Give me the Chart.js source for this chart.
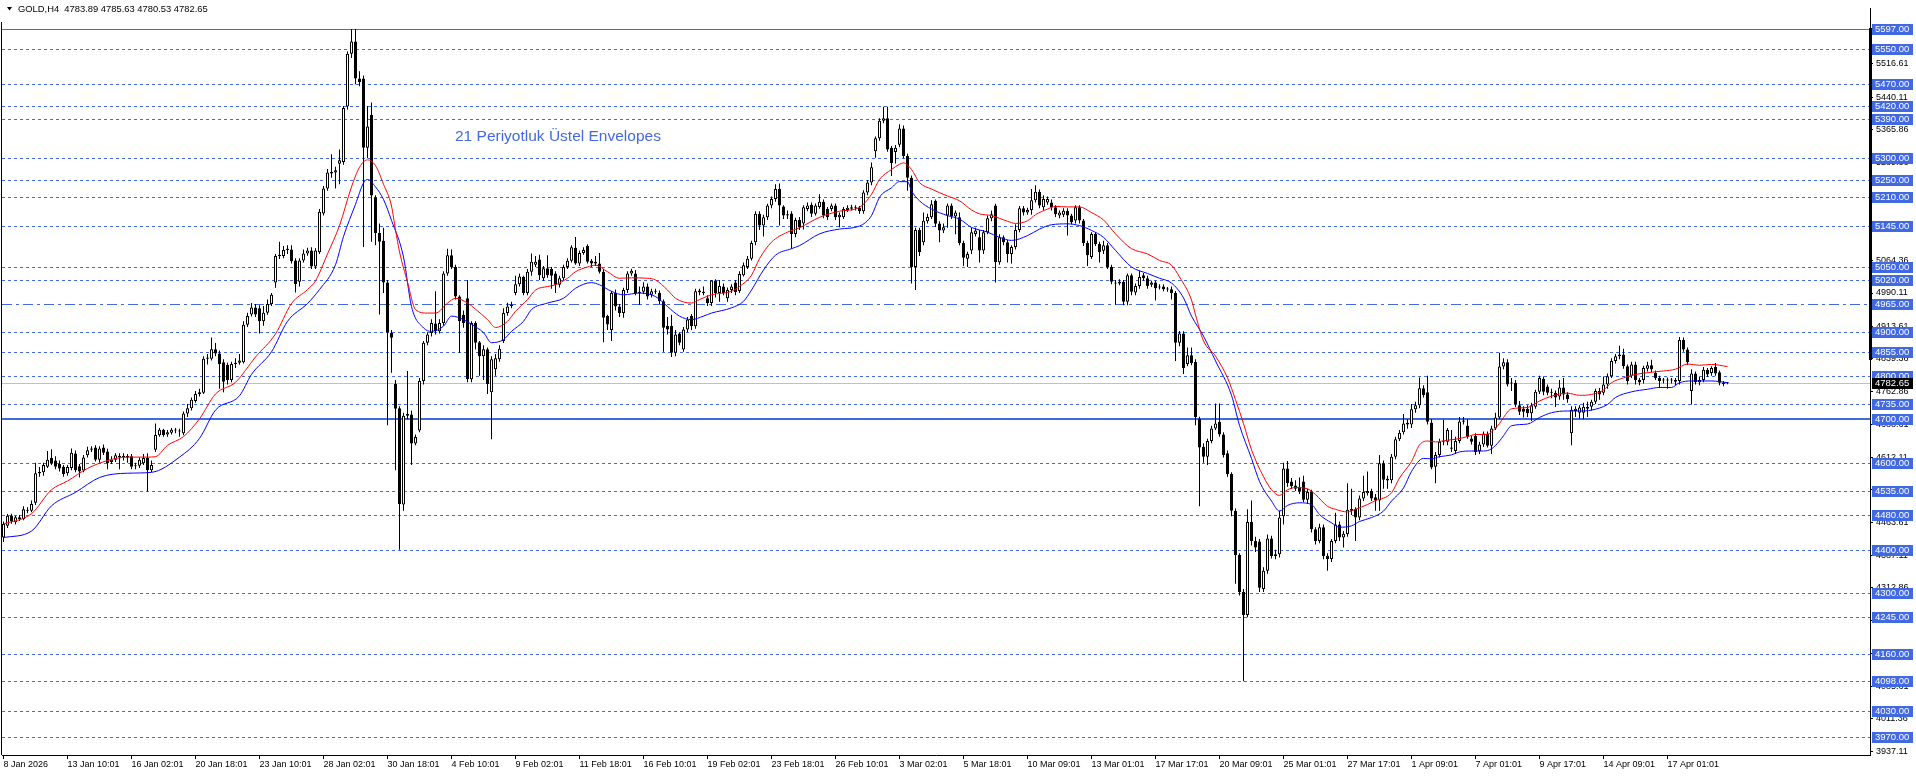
<!DOCTYPE html>
<html>
<head>
<meta charset="utf-8">
<script src="https://cdn.jsdelivr.net/npm/chart.js"></script>
<style>
  html, body { margin: 0; padding: 0; background: #fff; }
  #wrap { width: 1916px; height: 776px; }
</style>
</head>
<body>
<div id="wrap"><canvas id="goldChart" width="1916" height="776"></canvas></div>
<script>
// GOLD, H4 candles (one value per bar, bar 0 = 8 Jan 2026)
const open = [
  4428,4455,4479,4463,4475,4471,4492,4490,4508,4576,4578,4591,4611,4605,4598,4591,
  4576,4588,4621,4592,4582,4617,4630,4635,4607,4635,4626,4602,4607,4616,4613,4616,
  4615,4592,4593,4599,4611,4583,4630,4663,4675,4665,4669,4676,4674,4668,4713,4725,
  4742,4758,4761,4839,4839,4861,4851,4831,4825,4790,4827,4830,4831,4917,4941,4957,
  4955,4925,4945,4965,5014,5075,5075,5089,5090,5065,5016,5065,5081,5088,5051,5084,
  5173,5230,5265,5267,5287,5291,5419,5540,5568,5483,5483,5324,5399,5210,5128,5110,
  5014,4899,4781,4725,4504,4708,4711,4644,4674,4788,4876,4898,4920,4902,4921,5035,
  5077,5050,4982,4940,4978,4792,4921,4877,4845,4861,4762,4815,4838,4880,4944,4960,
  4990,5010,5027,4990,5039,5055,5067,5024,5047,5045,5035,5009,5024,5050,5064,5094,
  5058,5082,5098,5064,5058,5058,5039,4937,4905,4990,4959,4944,4997,5035,5035,4990,
  4993,5005,4986,4993,4990,4971,4915,4915,4853,4897,4860,4906,4937,4914,4992,4993,
  4978,4967,5019,4990,5005,4978,4997,5014,4995,5031,5050,5069,5107,5172,5145,5164,
  5191,5206,5229,5189,5168,5173,5126,5158,5150,5183,5193,5172,5188,5200,5183,5183,
  5191,5164,5164,5181,5184,5186,5186,5178,5221,5244,5316,5346,5386,5392,5324,5314,
  5331,5368,5305,5255,5050,5135,5107,5155,5164,5202,5150,5134,5168,5191,5166,5164,
  5105,5069,5088,5126,5118,5088,5130,5162,5191,5061,5118,5107,5080,5096,5135,5185,
  5175,5181,5203,5223,5187,5198,5198,5187,5168,5170,5179,5168,5157,5187,5157,5105,
  5073,5126,5103,5087,5100,5050,5014,5012,5016,4970,5031,4991,5006,5031,5024,5009,
  5014,5003,5005,4999,4999,4990,4876,4897,4827,4847,4832,4701,4637,4614,4650,4679,
  4694,4665,4622,4574,4489,4388,4303,4250,4464,4420,4419,4310,4352,4426,4386,4390,
  4477,4587,4557,4548,4545,4557,4515,4533,4447,4420,4452,4386,4379,4420,4458,4428,
  4436,4490,4494,4474,4518,4530,4535,4521,4513,4599,4563,4560,4614,4654,4670,4688,
  4688,4723,4732,4771,4762,4692,4591,4618,4648,4648,4635,4627,4650,4694,4685,4656,
  4662,4627,4642,4667,4639,4679,4704,4821,4831,4782,4784,4732,4724,4724,4714,4729,
  4763,4793,4775,4761,4761,4752,4773,4757,4668,4719,4715,4715,4724,4729,4740,4765,
  4761,4780,4799,4834,4845,4849,4822,4800,4826,4790,4790,4816,4824,4807,4795,4790,
  4789,4790,4790,4788,4882,4860,4765,4805,4785,4790,4814,4806,4820,4808,4784,4783.89
];
const high = [
  4465,4482,4483,4478,4480,4500,4498,4513,4600,4590,4600,4627,4631,4615,4605,4595,
  4595,4633,4628,4597,4618,4637,4638,4640,4638,4642,4632,4615,4622,4622,4622,4620,
  4620,4600,4612,4620,4622,4605,4690,4680,4678,4675,4680,4680,4678,4718,4735,4750,
  4765,4770,4845,4850,4888,4875,4858,4838,4830,4832,4840,4850,4925,4945,4967,4965,
  4962,4960,4975,4990,5080,5108,5098,5100,5100,5070,5070,5090,5094,5095,5093,5183,
  5236,5275,5309,5280,5320,5420,5545,5597,5597,5500,5490,5420,5428,5215,5150,5140,
  5020,4905,4790,4730,4715,4811,4720,4665,4795,4880,4900,4930,4994,4930,5040,5092,
  5090,5055,4985,4950,5020,4925,4925,4880,4870,4865,4845,4850,4870,4955,4968,4970,
  5030,5035,5030,5045,5081,5075,5078,5052,5077,5050,5040,5030,5055,5070,5100,5119,
  5088,5095,5102,5068,5075,5082,5045,4940,4995,4998,4965,5002,5040,5046,5043,5005,
  5015,5012,5000,5000,4996,4975,4935,4940,4905,4900,4912,4935,4942,5000,5000,5005,
  4985,5020,5022,5020,5012,5003,5010,5020,5040,5060,5075,5110,5178,5178,5170,5195,
  5212,5240,5242,5192,5180,5178,5163,5165,5192,5198,5198,5196,5217,5205,5188,5196,
  5196,5175,5188,5192,5193,5192,5190,5226,5250,5290,5350,5392,5418,5418,5328,5330,
  5378,5375,5310,5260,5140,5140,5175,5172,5203,5205,5155,5150,5196,5196,5180,5175,
  5110,5085,5140,5140,5135,5135,5168,5180,5195,5125,5122,5112,5100,5148,5190,5190,
  5186,5229,5238,5228,5215,5212,5205,5192,5180,5185,5185,5172,5192,5192,5160,5110,
  5130,5130,5108,5110,5105,5055,5020,5022,5020,5035,5035,5012,5042,5036,5030,5018,
  5018,5010,5010,5004,5005,4995,4903,4902,4865,4865,4838,4706,4645,4655,4685,4736,
  4736,4670,4628,4578,4495,4392,4310,4493,4513,4430,4425,4360,4435,4432,4400,4490,
  4600,4604,4565,4560,4566,4570,4540,4538,4452,4460,4458,4392,4425,4485,4465,4443,
  4553,4540,4498,4525,4570,4580,4540,4528,4618,4605,4570,4620,4660,4675,4712,4700,
  4735,4740,4796,4778,4800,4700,4625,4655,4699,4680,4675,4660,4705,4705,4700,4662,
  4668,4648,4672,4672,4685,4715,4853,4840,4838,4795,4790,4742,4730,4732,4738,4768,
  4800,4798,4780,4770,4766,4790,4795,4762,4730,4730,4732,4738,4740,4745,4770,4772,
  4798,4805,4840,4850,4869,4862,4826,4832,4832,4795,4823,4832,4837,4812,4800,4795,
  4796,4795,4795,4889,4888,4865,4815,4810,4798,4820,4818,4822,4829,4812,4788,4785.63
];
const low = [
  4418,4450,4460,4458,4466,4468,4484,4486,4503,4568,4570,4588,4595,4585,4580,4568,
  4570,4583,4578,4566,4578,4612,4625,4603,4600,4618,4585,4597,4602,4585,4605,4600,
  4585,4585,4588,4595,4534,4578,4625,4660,4660,4660,4665,4668,4660,4663,4705,4720,
  4738,4752,4758,4826,4835,4845,4770,4762,4780,4785,4818,4825,4828,4912,4936,4935,
  4897,4915,4940,4960,5002,5068,5070,5080,5058,4991,5005,5060,5076,5045,5045,5080,
  5168,5225,5255,5230,5240,5285,5412,5530,5470,5465,5096,5300,5108,5100,4941,4990,
  4686,4807,4583,4400,4490,4700,4595,4640,4670,4780,4870,4890,4895,4897,4915,5030,
  5045,4975,4853,4910,4785,4785,4860,4800,4790,4758,4654,4800,4832,4875,4938,4955,
  4985,5005,4985,4985,5030,5050,5020,5018,5025,5000,4990,5003,5018,5045,5060,5055,
  5052,5078,5058,5050,5052,5035,4877,4905,4880,4950,4935,4933,4990,5030,4985,4963,
  4988,4975,4980,4988,4965,4855,4895,4843,4845,4870,4855,4900,4905,4908,4985,4985,
  4960,4960,4980,4970,4985,4970,4990,4985,4990,5028,5045,5065,5100,5135,5120,5158,
  5185,5200,5145,5160,5160,5092,5118,5135,5136,5178,5165,5168,5184,5162,5158,5178,
  5158,5141,5160,5176,5180,5180,5172,5172,5215,5238,5301,5340,5380,5315,5259,5288,
  5325,5300,5225,5012,4997,5075,5100,5150,5160,5142,5107,5128,5140,5160,5125,5100,
  5052,5050,5080,5120,5060,5080,5125,5155,5014,5055,5100,5060,5058,5090,5130,5168,
  5170,5170,5198,5185,5180,5193,5180,5165,5162,5165,5122,5148,5150,5150,5098,5052,
  5068,5098,5060,5080,5045,5010,4963,5008,4962,4962,4985,4985,5000,5018,5000,5004,
  4973,4998,4994,4993,4975,4834,4868,4804,4822,4824,4686,4500,4600,4595,4645,4675,
  4660,4612,4568,4477,4322,4295,4098,4245,4410,4395,4303,4303,4345,4380,4378,4382,
  4458,4545,4540,4535,4528,4510,4505,4440,4412,4415,4378,4352,4372,4415,4420,4405,
  4430,4480,4420,4468,4512,4525,4512,4490,4490,4540,4540,4553,4608,4650,4665,4678,
  4680,4715,4725,4750,4688,4585,4553,4612,4640,4640,4625,4620,4645,4688,4655,4642,
  4618,4620,4636,4635,4620,4675,4700,4815,4775,4765,4728,4710,4704,4705,4696,4724,
  4758,4755,4755,4748,4728,4745,4745,4738,4640,4705,4702,4700,4705,4720,4735,4745,
  4755,4770,4795,4828,4838,4816,4780,4795,4780,4778,4782,4810,4808,4790,4772,4782,
  4770,4782,4778,4780,4855,4825,4734,4780,4778,4785,4797,4800,4800,4778,4776,4780.53
];
const close = [
  4459,4478,4465,4475,4471,4493,4490,4505,4576,4579,4595,4607,4599,4591,4587,4574,
  4590,4623,4583,4580,4612,4629,4633,4607,4633,4623,4599,4607,4617,4613,4616,4612,
  4591,4594,4607,4611,4583,4595,4664,4676,4664,4670,4676,4674,4672,4713,4725,4745,
  4758,4762,4839,4842,4861,4851,4827,4786,4790,4827,4830,4835,4917,4937,4957,4941,
  4925,4945,4965,4986,5075,5078,5089,5092,5063,5011,5065,5081,5088,5051,5088,5177,
  5230,5267,5268,5272,5295,5415,5540,5568,5483,5475,5324,5373,5214,5128,5108,5014,
  4899,4887,4724,4505,4708,4712,4644,4659,4788,4876,4895,4921,4902,4921,5035,5077,
  5050,4982,4925,4921,4792,4921,4876,4845,4861,4781,4838,4840,4862,4944,4959,4963,
  5010,5028,4990,5039,5062,5062,5031,5047,5031,5030,5009,5024,5050,5064,5095,5058,
  5082,5089,5062,5058,5062,5039,4933,4918,4990,4959,4944,4997,5035,5041,4990,4993,
  5005,4982,4994,4995,4971,4910,4906,4853,4895,4876,4906,4929,4914,4994,4996,4990,
  4967,5019,4990,5006,4990,4997,5005,4992,5034,5054,5069,5105,5172,5145,5164,5191,
  5206,5229,5191,5168,5171,5126,5158,5141,5187,5191,5172,5191,5200,5168,5164,5191,
  5164,5170,5183,5186,5187,5185,5178,5221,5244,5279,5346,5386,5392,5320,5289,5324,
  5368,5305,5255,5050,5135,5084,5156,5165,5194,5149,5134,5141,5191,5166,5175,5105,
  5071,5080,5130,5134,5088,5130,5162,5171,5061,5118,5107,5080,5096,5135,5185,5175,
  5181,5203,5223,5191,5206,5206,5187,5171,5175,5179,5168,5153,5187,5157,5105,5077,
  5126,5103,5084,5100,5050,5016,5012,5016,4970,5031,4993,5006,5027,5024,5006,5014,
  5001,5005,4999,4998,4990,4876,4897,4817,4847,4829,4705,4635,4614,4650,4679,4690,
  4665,4618,4574,4490,4388,4303,4250,4464,4420,4405,4313,4352,4426,4386,4390,4474,
  4587,4553,4546,4540,4534,4515,4533,4447,4420,4452,4386,4379,4420,4458,4428,4437,
  4492,4494,4474,4518,4533,4535,4518,4513,4599,4561,4559,4614,4654,4669,4690,4692,
  4723,4732,4771,4756,4694,4589,4618,4648,4650,4675,4632,4650,4695,4697,4660,4648,
  4625,4642,4667,4639,4679,4704,4821,4831,4780,4784,4734,4717,4717,4714,4732,4763,
  4795,4763,4761,4762,4750,4773,4757,4746,4722,4724,4727,4729,4729,4740,4765,4757,
  4780,4799,4834,4845,4849,4822,4788,4826,4790,4785,4818,4824,4815,4795,4788,4789,
  4790,4789,4786,4882,4860,4831,4805,4785,4790,4814,4803,4818,4805,4784,4781,4782.65
];

// 21 period exponential envelopes, read at these bars
const upperBars = [0,7,12,16,21,26,31,36,38,41,45,49,53,58,63,68,72,76,78,81,84,87,89,91,93,95,97,98,99,101,
  103,106,108,111,113,116,118,121,123,126,128,131,133,136,138,141,143,146,148,151,154,157,161,163,166,168,172,174,177,182,
  184,187,189,192,196,199,204,209,214,217,219,222,224,225,227,229,232,236,239,242,244,247,251,253,256,258,261,263,266,269,
  272,275,278,282,286,289,292,294,297,298,300,303,306,308,310,312,315,317,319,321,323,326,328,331,333,336,338,341,343,347,
  349,352,354,356,358,361,363,366,368,371,372,374,375,377,381,384,387,391,394,397,400,402,405,408,412,415,418,421,424,427,431];
const upperVals = [4459,4483,4538,4558,4587,4605,4613,4613,4614,4640,4660,4701,4758,4785,4843,4896,4966,4998,5018,5080,5145,5234,5279,5296,5283,5240,5190,5135,5085,5015,
  4952,4944,4944,4967,4978,4967,4953,4929,4911,4925,4948,4975,4997,5005,5009,5024,5039,5050,5054,5039,5024,5025,5024,5020,4997,4978,4967,4975,4986,4994,
  5005,5031,5069,5107,5130,5140,5164,5178,5187,5217,5251,5274,5286,5289,5274,5244,5229,5213,5202,5181,5172,5168,5155,5150,5156,5170,5183,5189,5188,5188,
  5175,5158,5126,5092,5080,5065,5054,5027,4974,4940,4880,4845,4795,4745,4690,4630,4568,4538,4525,4538,4543,4540,4527,4500,4493,4487,4493,4504,4513,4531,
  4565,4603,4641,4650,4648,4652,4654,4660,4665,4665,4671,4690,4704,4724,4727,4742,4753,4760,4755,4757,4767,4784,4795,4803,4808,4811,4815,4827,4824,4826,4821];
const lowerBars = [0,7,12,18,24,31,37,44,49,53,59,62,67,71,76,79,83,85,88,90,91,93,95,97,100,102,105,107,110,112,
  115,117,120,122,125,127,130,132,136,140,143,147,149,152,155,159,163,166,169,172,175,177,182,185,187,190,193,197,199,204,
  209,214,217,219,222,224,226,227,229,232,236,239,242,246,249,252,256,259,262,266,269,272,275,278,282,286,289,292,295,297,
  300,303,307,309,312,314,317,319,321,324,327,329,332,334,337,339,342,345,347,350,352,355,357,359,362,364,367,370,372,374,
  375,377,381,384,387,391,394,397,401,403,407,411,414,417,419,422,427,431];
const lowerVals = [4428,4443,4501,4532,4566,4576,4578,4613,4656,4721,4754,4803,4855,4925,4966,4998,5055,5120,5194,5243,5251,5234,5205,5157,5073,4959,4910,4902,4914,4937,
  4929,4918,4899,4876,4883,4902,4925,4952,4967,4978,5001,5014,5009,4994,4986,4990,4982,4959,4937,4929,4937,4944,4956,4971,4997,5043,5077,5092,5099,5126,
  5137,5144,5168,5210,5232,5246,5246,5225,5202,5183,5168,5160,5141,5130,5118,5111,5122,5137,5147,5149,5145,5134,5118,5088,5050,5035,5024,5013,4979,4937,
  4891,4834,4755,4686,4610,4557,4512,4489,4502,4508,4504,4481,4462,4452,4455,4465,4474,4489,4512,4542,4580,4610,4609,4614,4618,4625,4627,4627,4632,4650,
  4662,4685,4689,4704,4715,4719,4719,4721,4734,4750,4763,4769,4773,4773,4784,4788,4788,4784];

// horizontal levels drawn on the chart, the current bid, and the axis ticks
const levels = [5597,5550,5470,5420,5390,5300,5250,5210,5145,5050,5020,4965,4900,4855,4800,4735,4700,
  4600,4535,4480,4400,4300,4245,4160,4098,4030,3970];
const bid = 4782.65;
const priceTicks = [5590.86,5516.61,5440.11,5365.86,5289.36,5215.11,5138.61,5064.36,4990.11,4913.61,4839.36,
  4762.86,4688.61,4612.11,4537.86,4463.61,4387.11,4312.86,4236.36,4162.11,4085.61,4011.36,3937.11];
const timeLabels = ['8 Jan 2026','13 Jan 10:01','16 Jan 02:01','20 Jan 18:01','23 Jan 10:01','28 Jan 02:01',
  '30 Jan 18:01','4 Feb 10:01','9 Feb 02:01','11 Feb 18:01','16 Feb 10:01','19 Feb 02:01','23 Feb 18:01',
  '26 Feb 10:01','3 Mar 02:01','5 Mar 18:01','10 Mar 09:01','13 Mar 01:01','17 Mar 17:01','20 Mar 09:01',
  '25 Mar 01:01','27 Mar 17:01','1 Apr 09:01','7 Apr 01:01','9 Apr 17:01','14 Apr 09:01','17 Apr 01:01'];
const BARS_PER_LABEL = 16;

const FONT = 'Liberation Sans, Arial, sans-serif';
const LEVEL_BLUE = '#4169e1';

const wicks = high.map((h, i) => ({ x: i, y: [low[i], h] }));
const bodies = open.map((o, i) => ({ x: i, y: [o, close[i]] }));
const bodyFill = open.map((o, i) => close[i] >= o ? '#ffffff' : '#000000');

const levelsPlugin = {
  id: 'mtLevels',
  beforeDatasetsDraw(chart) {
    const { ctx, chartArea: a, scales: { y } } = chart;
    ctx.save();
    ctx.beginPath();
    ctx.rect(a.left, a.top, a.right - a.left, a.bottom - a.top);
    ctx.clip();
    // bid line
    let by = Math.round(y.getPixelForValue(bid)) + 0.5;
    ctx.strokeStyle = '#c0c0c0';
    ctx.lineWidth = 1;
    ctx.beginPath(); ctx.moveTo(a.left, by); ctx.lineTo(a.right, by); ctx.stroke();
    levels.forEach(v => {
      const py = Math.round(y.getPixelForValue(v));
      ctx.strokeStyle = LEVEL_BLUE;
      let yy = py + 0.5;
      if (v === 4700) {
        ctx.lineWidth = 2; ctx.setLineDash([]); yy = py;
      } else if (v === 5597) {
        ctx.lineWidth = 1; ctx.setLineDash([]);
      } else if (v === 4965) {
        ctx.lineWidth = 1; ctx.setLineDash([10, 4, 3, 4]);
      } else {
        ctx.lineWidth = 1; ctx.setLineDash([3, 3]);
      }
      ctx.beginPath(); ctx.moveTo(a.left, yy); ctx.lineTo(a.right, yy); ctx.stroke();
    });
    ctx.restore();
  },
  afterDraw(chart) {
    const { ctx, chartArea: a, scales: { y } } = chart;
    ctx.save();
    // frame
    ctx.strokeStyle = '#000';
    ctx.lineWidth = 1;
    ctx.beginPath(); ctx.moveTo(a.left - 0.5, 22); ctx.lineTo(a.left - 0.5, a.bottom); ctx.stroke();
    ctx.fillStyle = '#000';
    ctx.fillRect(a.right - 1, 28, 3, 332);

    // level boxes on the price scale
    ctx.font = '9.5px ' + FONT;
    ctx.textBaseline = 'middle';
    ctx.textAlign = 'left';
    const box = (v, bg) => {
      const py = Math.round(y.getPixelForValue(v));
      ctx.fillStyle = bg;
      ctx.fillRect(a.right + 2, py - 5, 41, 11);
      ctx.fillStyle = '#fff';
      ctx.fillText(v.toFixed(2), a.right + 5, py + 0.5);
    };
    levels.forEach(v => box(v, LEVEL_BLUE));
    box(bid, '#000');

    // header
    ctx.fillStyle = '#000';
    ctx.beginPath(); ctx.moveTo(7, 7); ctx.lineTo(12, 7); ctx.lineTo(9.5, 10.5); ctx.closePath(); ctx.fill();
    ctx.font = '9.4px ' + FONT;
    ctx.fillText('GOLD,H4  4783.89 4785.63 4780.53 4782.65', 18, 9);

    // text label
    ctx.fillStyle = LEVEL_BLUE;
    ctx.font = '15.5px ' + FONT;
    ctx.fillText('21 Periyotluk Üstel Envelopes', 455, 137);
    ctx.restore();
  }
};

new Chart(document.getElementById('goldChart'), {
  type: 'bar',
  data: {
    datasets: [
      {
        type: 'line', label: 'upper', data: upperBars.map((b, k) => ({ x: b, y: upperVals[k] })),
        borderColor: '#ff0000', borderWidth: 1, pointRadius: 0, cubicInterpolationMode: 'monotone', order: 1
      },
      {
        type: 'line', label: 'lower', data: lowerBars.map((b, k) => ({ x: b, y: lowerVals[k] })),
        borderColor: '#0000ff', borderWidth: 1, pointRadius: 0, cubicInterpolationMode: 'monotone', order: 2
      },
      {
        label: 'body', data: bodies, backgroundColor: bodyFill, borderColor: '#000', borderWidth: 1,
        borderSkipped: false, barThickness: 3, minBarLength: 1, grouped: false, inflateAmount: 0, order: 3
      },
      {
        label: 'wick', data: wicks, backgroundColor: '#000', borderWidth: 0,
        barThickness: 1, grouped: false, inflateAmount: 0, order: 4
      }
    ]
  },
  options: {
    responsive: false,
    animation: false,
    devicePixelRatio: 1,
    layout: { padding: { top: 2, left: 2, right: 0, bottom: 0 } },
    plugins: { legend: { display: false }, tooltip: { enabled: false } },
    scales: {
      x: {
        type: 'linear', min: -0.375, max: 466.625, offset: false,
        afterBuildTicks: s => { s.ticks = timeLabels.map((t, k) => ({ value: k * BARS_PER_LABEL })); },
        afterFit: s => { s.height = 21; },
        grid: { drawOnChartArea: false, tickLength: 4, color: '#000', offset: false },
        border: { color: '#000' },
        ticks: {
          autoSkip: false, maxRotation: 0, align: 'start', padding: 0, color: '#000',
          font: { family: FONT, size: 9 },
          callback: v => timeLabels[Math.round(v / BARS_PER_LABEL)]
        }
      },
      y: {
        type: 'linear', position: 'right', min: 3928.4, max: 5644.17,
        afterBuildTicks: s => { s.ticks = priceTicks.map(v => ({ value: v })); },
        afterFit: s => { s.width = 46; },
        grid: { drawOnChartArea: false, tickLength: 3, color: '#000' },
        border: { color: '#000' },
        ticks: {
          autoSkip: false, padding: 3, color: '#000',
          font: { family: FONT, size: 9 },
          callback: v => v.toFixed(2)
        }
      }
    }
  },
  plugins: [levelsPlugin]
});
</script>
</body>
</html>
